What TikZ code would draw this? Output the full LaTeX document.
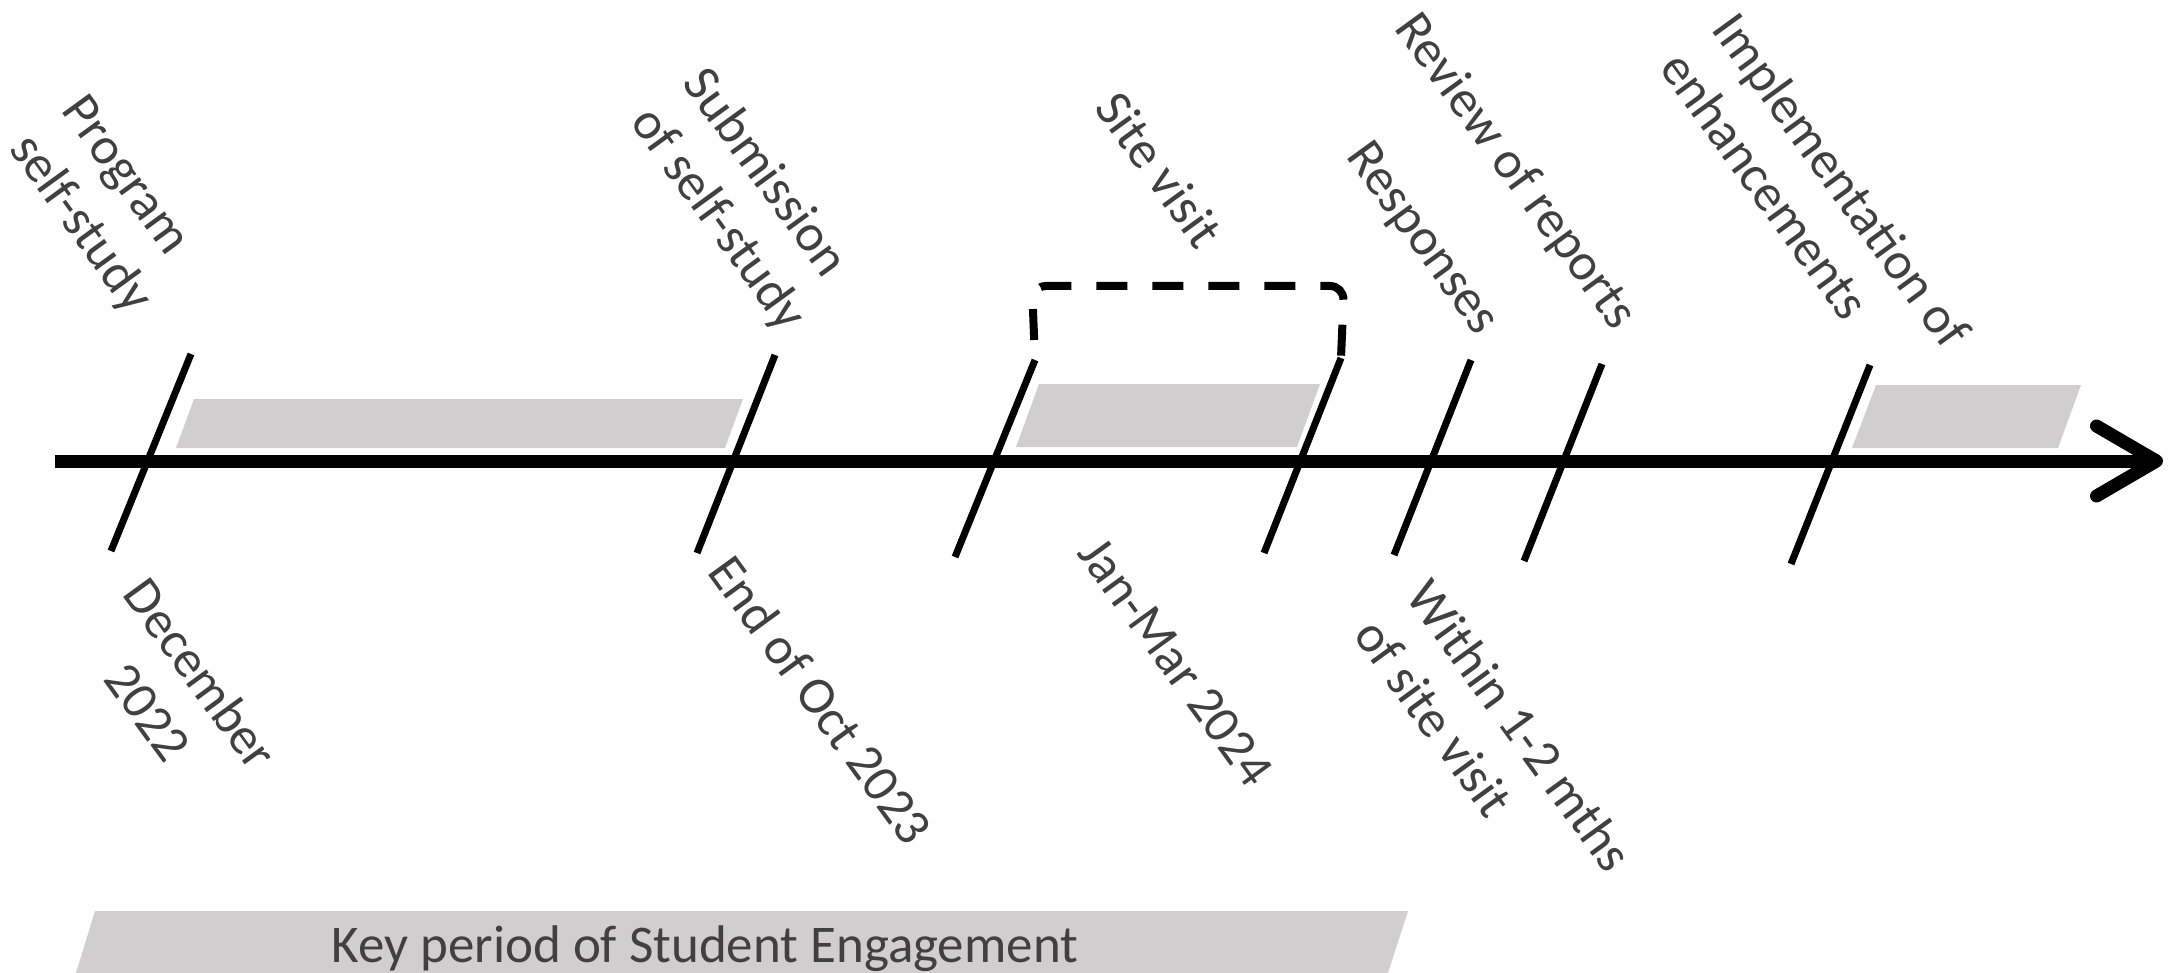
\documentclass[tikz,border=0pt]{standalone}
\usepackage{fontspec}
\setmainfont{Carlito}
\usetikzlibrary{arrows.meta,positioning}
\definecolor{bandgray}{HTML}{D0CECE}
\definecolor{textgray}{HTML}{404040}

\begin{document}
\begin{tikzpicture}[x=1pt,y=1pt,
    milestone/.style={line width=7pt},
    band/.style={fill=bandgray},
    lbl/.style={rotate=-54, anchor=base west, inner sep=0pt, align=left,
      text=textgray, font=\fontsize{52.5}{65}\selectfont}
  ]
  \useasboundingbox (0,0) rectangle (2170,-973);
  % grey periods
  \fill[band] (194,-399) -- (743,-399) -- (725,-448) -- (176,-448) -- cycle;
  \fill[band] (1039,-384) -- (1320,-384) -- (1297,-447) -- (1016,-447) -- cycle;
  \fill[band] (1876,-385) -- (2081,-385) -- (2058,-448) -- (1852,-448) -- cycle;
  % time axis
  \draw[line width=13pt, -{Straight Barb[length=60pt,width=70pt,round]}] (55,-461) -- (2163,-461);
  \foreach \n/\xt/\yt/\xb/\yb in {1/191/354/111/551, 2/775/355/697/553,
      3/1035/360/955/557, 4/1341/358/1264/553, 5/1471/360/1394/555,
      6/1602/364/1524/561, 7/1870/365/1791/564} {
    \coordinate (t\n) at (\xt,-\yt);
    \coordinate (b\n) at (\xb,-\yb);
    \draw[milestone] (t\n) -- (b\n);
  }
  % site visit bracket
  \draw[line width=8pt, dash pattern=on 31pt off 25pt, dash phase=36pt, rounded corners=14pt]
    (t3) -- (1032,-286) -- (1344,-286) -- (t4);
  % milestones above (base = last line)
  \node[lbl] (prog) at (8,-149) {Program\\self-study};
  \node[lbl] (subm) at (629,-122) {Submission\\of self-study};
  \node[lbl] (site) at (1093,-108) {Site visit};
  \node[lbl] (resp) at (1345,-156) {Responses};
  \node[lbl] (rev) at (1393,-28) {Review of reports};
  \node[lbl] (impl) at (1658,-68) {Implementation of\\enhancements};
  % dates below
  \node[lbl, align=center] (dec) at (69,-633) {December\\2022};
  \node[lbl] (oct) at (706,-572) {End of Oct 2023};
  \node[lbl] (jan) at (1076,-553) {Jan-Mar 2024};
  \node[lbl] (within) at (1352,-635) {Within 1-2 mths\\of site visit};
  % student engagement
  \fill[band] (95,-911) -- (1408,-911) -- (1388,-973) -- (76,-973) -- cycle;
  \node[text=textgray, font=\fontsize{53}{64}\selectfont, anchor=base] (key) at (705,-962)
    {Key period of Student Engagement};
\end{tikzpicture}
\end{document}
